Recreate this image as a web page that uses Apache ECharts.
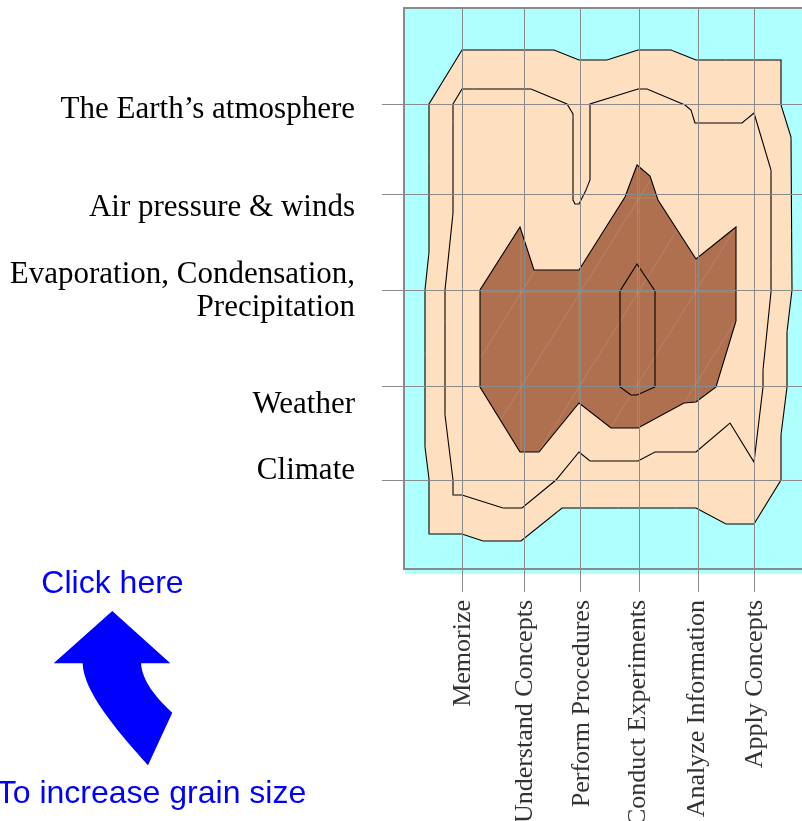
<!DOCTYPE html>
<html><head><meta charset="utf-8">
<style>html,body{margin:0;padding:0;background:#fff;overflow:hidden}#c{width:802px;height:821px}</style>
<script src="https://cdn.jsdelivr.net/npm/echarts@6/dist/echarts.min.js"></script>
</head><body><div id="c"></div>
<script>
// Axes are in plot units measured from the plot's top-left corner.
const xCategories = ['Memorize','Understand Concepts','Perform Procedures','Conduct Experiments','Analyze Information','Apply Concepts'];
const xTicks = [58,120,176,235,294,350];
const xLabelAt = [59,121,178,234,293,351];
const yCategories = ["The Earth\u2019s atmosphere",'Air pressure & winds','Evaporation, Condensation,\nPrecipitation','Weather','Climate'];
const yTicks = [96,186,282,378,472];
const yLabelAt = [102,200,283,397,463];

const plotArea = [[1,0],[400,0],[400,566],[1,566]];
const outerLevel = [[58,42],[150,42],[175,52],[203,52],[234,42],[267,42],[292,52],[377,52],[377,97],[387,129],[388,282],[383,324],[383,379],[377,427],[377,472],[350,516],[322,516],[292,500],[158,500],[117,533],[79,533],[58,526],[25,526],[25,471],[21,439],[21,282],[25,244],[25,96]];
const middleLevel = [[49,96],[58,81],[127,81],[163,96],[169,106],[169,192],[171,196],[175,196],[182,182],[186,172],[186,96],[234,81],[243,81],[281,97],[287,102],[291,115],[338,115],[350,105],[367,162],[367,284],[359,362],[359,379],[350,454],[326,415],[292,444],[251,444],[234,453],[186,453],[175,444],[152,472],[118,500],[99,500],[58,487],[49,487],[49,472],[41,407],[41,282],[49,205]];
const innerLevel = [[233,157],[246,168],[254,192],[292,251],[332,219],[332,313],[312,379],[292,394],[280,395],[234,420],[207,420],[175,395],[135,444],[116,444],[76,379],[76,282],[116,219],[130,262],[175,262],[221,189]];
const peakLevel = [[233,256],[251,283],[251,379],[233,387],[227,387],[216,379],[216,283]];
// Faint seams of the surface mesh
const meshSeams = [
  [[0,100],[62,0]],[[0,193],[120,0]],[[0,286],[179,0]],[[0,379],[237,0]],[[0,472],[295,0]],[[0,566],[354,0]],
  [[58,566],[400,19]],[[115,566],[400,110]],[[173,566],[400,203]],[[231,566],[400,296]],[[289,566],[400,389]],
  [[117,219],[117,444]],[[291.5,251],[291.5,394]],[[233.5,157],[233.5,420]],[[175,262],[175,395]],
  [[76,284],[332,284]],[[221,190],[254,190]]
];

const levels = [
  {name:'plot', pts:plotArea, fill:'#aeffff', stroke:null},
  {name:'outer', pts:outerLevel, fill:'#fedfc0', stroke:'#000'},
  {name:'middle', pts:middleLevel, fill:'#fedfc0', stroke:'#000'},
  {name:'inner', pts:innerLevel, fill:'#ae704e', stroke:null},
];

const chart = echarts.init(document.getElementById('c'), null, {renderer:'canvas'});
const serif = '"Liberation Serif","Times New Roman",serif';
const sans = '"Liberation Sans",Arial,sans-serif';
const grey = '#8a8a8a';
const polySeries = (name,pts,fill,stroke)=>({
  type:'custom',name,coordinateSystem:'cartesian2d',z:1,clip:false,silent:true,data:pts,
  renderItem:(p,api)=>{
    if(p.dataIndex!==0) return null;
    return {type:'polygon',shape:{points:pts.map(q=>api.coord(q))},
      style:{fill,stroke,lineWidth:stroke?1.1:0}};
  }
});
const seamSeries = {
  type:'custom',name:'mesh',coordinateSystem:'cartesian2d',z:1,silent:true,clip:true,
  data:meshSeams.map(s=>[s[0][0],s[0][1],s[1][0],s[1][1]]),
  renderItem:(p,api)=>{
    const a=api.coord([api.value(0),api.value(1)]),b=api.coord([api.value(2),api.value(3)]);
    return {type:'line',shape:{x1:a[0],y1:a[1],x2:b[0],y2:b[1]},style:{stroke:'rgba(255,255,255,0.2)',lineWidth:0.7}};
  }
};
const cubic=(p0,p1,p2,p3,n=16)=>Array.from({length:n+1},(_,i)=>{const t=i/n,u=1-t;
  return [0,1].map(k=>u*u*u*p0[k]+3*u*u*t*p1[k]+3*u*t*t*p2[k]+t*t*t*p3[k]);});
const arrow=[[112.3,611],[170.3,663.3],
  ...cubic([141,663.3],[142,680],[155,697],[172.3,712.7]),
  ...cubic([148,765.3],[115,729],[83,690],[82.7,663.3]),
  [53.7,663.3]];

chart.setOption({
  animation:false,
  backgroundColor:'#fff',
  grid:{left:404,top:8,width:400,height:561,outerBoundsMode:'none',show:true,borderColor:grey,borderWidth:2,backgroundColor:'transparent',z:6},
  xAxis:{type:'value',min:0,max:400,z:5,
    axisLine:{show:false,onZero:false},
    axisTick:{show:true,length:23,lineStyle:{color:grey,width:1},customValues:xTicks},
    splitLine:{show:true,lineStyle:{color:grey,width:1}},
    axisLabel:{show:true,customValues:xLabelAt,rotate:90,margin:31,color:'#333',fontFamily:serif,fontSize:26,
      formatter:v=>xCategories[xLabelAt.indexOf(v)]}
  },
  yAxis:{type:'value',min:0,max:561,inverse:true,z:5,
    axisLine:{show:false,onZero:false},
    axisTick:{show:true,length:22,lineStyle:{color:grey,width:1},customValues:yTicks},
    splitLine:{show:true,lineStyle:{color:grey,width:1}},
    axisLabel:{show:true,customValues:yLabelAt,margin:49,color:'#000',fontFamily:serif,fontSize:31,lineHeight:33,align:'right',
      formatter:v=>yCategories[yLabelAt.indexOf(v)]}
  },
  series:[
    ...levels.map(l=>polySeries(l.name,l.pts,l.fill,l.stroke)),
    seamSeries,
    polySeries('innerEdge',innerLevel,'transparent','#000'),
    polySeries('peak',peakLevel,'transparent','#000')
  ],
  graphic:[
    {type:'text',x:112.5,y:584,style:{text:'Click here',fill:'#0000ff',font:'32px '+sans,textAlign:'center',textVerticalAlign:'middle'}},
    {type:'text',x:151.5,y:794,style:{text:'To increase grain size',fill:'#0000ff',font:'32px '+sans,textAlign:'center',textVerticalAlign:'middle'}},
    {type:'polygon',shape:{points:arrow},style:{fill:'#0000ff'}}
  ]
});
</script></body></html>
